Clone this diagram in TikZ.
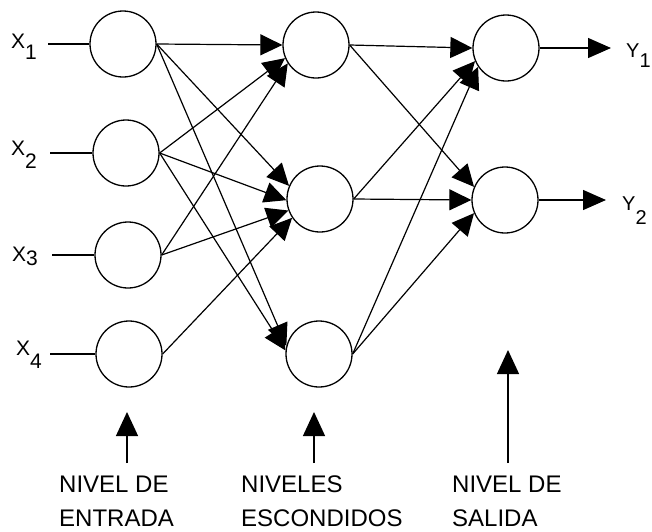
\documentclass[tikz,border=0pt]{standalone}
\usepackage{fontspec}
\setmainfont{Liberation Sans}
\usetikzlibrary{arrows.meta}
\begin{document}
\begin{tikzpicture}[x=1pt,y=-1pt,
  neuron/.style={circle,draw,line width=1.3pt,minimum size=66pt,inner sep=0pt},
  link/.style={line width=1.2pt,-{Triangle[length=22pt,width=21pt]}},
  feed/.style={line width=1.3pt},
  outarrow/.style={line width=1.3pt,-{Triangle[length=23pt,width=20pt]}},
  pointer/.style={line width=1.3pt,-{Triangle[length=24pt,width=22pt]}},
  varlabel/.style={anchor=base west,inner sep=0pt,font=\fontsize{21}{25}\selectfont},
  outlabel/.style={anchor=base west,inner sep=0pt,font=\fontsize{20}{24}\selectfont},
  caption/.style={anchor=base west,inner sep=0pt,font=\fontsize{24}{30}\selectfont}]
\useasboundingbox (0,0) rectangle (652,531);

% input layer
\node[neuron] (i1) at (123,44) {};
\node[neuron] (i2) at (126,153) {};
\node[neuron] (i3) at (128,255) {};
\node[neuron] (i4) at (129,354) {};
% hidden layer
\node[neuron] (h1) at (316,45) {};
\node[neuron] (h2) at (320,199) {};
\node[neuron] (h3) at (319,354) {};
% output layer
\node[neuron] (o1) at (506,48) {};
\node[neuron] (o2) at (505,200) {};

% input variables
\node[varlabel] (x1) at (11,48) {X\raisebox{-11pt}{1}};
\node[varlabel] (x2) at (11,155) {X\raisebox{-13pt}{2}};
\node[varlabel] (x3) at (12,261) {X\raisebox{-4pt}{3}};
\node[varlabel] (x4) at (16,355) {X\raisebox{-13pt}{4}};
\coordinate (a1) at (48,44);
\coordinate (a2) at (50,153);
\coordinate (a3) at (52,255);
\coordinate (a4) at (50,354);
\draw[feed] (a1) -- (i1.west);
\draw[feed] (a2) -- (i2.west);
\draw[feed] (a3) -- (i3.west);
\draw[feed] (a4) -- (i4.west);

% input -> hidden (arrows gather on the left side of each hidden unit)
\draw[link] (i1.east) -- (h1.west);
\draw[link] (i2.east) -- (h1.203);
\draw[link] (i3.east) -- (h1.213);
\draw[link] (i1.east) -- (h2.157);
\draw[link] (i2.east) -- (h2.182);
\draw[link] (i3.east) -- (h2.200);
\draw[link] (i4.east) -- (h2.214);
\draw[link] (i1.east) -- (h3.166);
\draw[link] (i2.east) -- (h3.174);

% hidden -> output
\draw[link] (h1.east) -- (o1.west);
\draw[link] (h2.east) -- (o1.203);
\draw[link] (h3.east) -- (o1.214);
\draw[link] (h1.east) -- (o2.157);
\draw[link] (h2.east) -- (o2.west);
\draw[link] (h3.east) -- (o2.203);

% outputs
\coordinate (y1tip) at (611,48);
\coordinate (y2tip) at (606,200);
\draw[outarrow] (o1.east) -- (y1tip);
\draw[outarrow] (o2.east) -- (y2tip);
\node[outlabel] (y1) at (626,57) {Y\raisebox{-10pt}{1}};
\node[outlabel] (y2) at (622,210) {Y\raisebox{-14pt}{2}};

% layer captions
\coordinate (p1) at (127,463);
\coordinate (q1) at (127,412);
\coordinate (p2) at (314,463);
\coordinate (q2) at (314,412);
\coordinate (p3) at (508,463);
\coordinate (q3) at (508,350);
\draw[pointer] (p1) -- (q1);
\draw[pointer] (p2) -- (q2);
\draw[pointer] (p3) -- (q3);

\node[caption] (c1a) at (59,492) {NIVEL DE};
\node[caption] (c1b) at (59,526) {ENTRADA};
\node[caption] (c2a) at (241,492) {NIVELES};
\node[caption] (c2b) at (241,526) {ESCONDIDOS};
\node[caption] (c3a) at (452,492) {NIVEL DE};
\node[caption] (c3b) at (452,526) {SALIDA};
\end{tikzpicture}
\end{document}
